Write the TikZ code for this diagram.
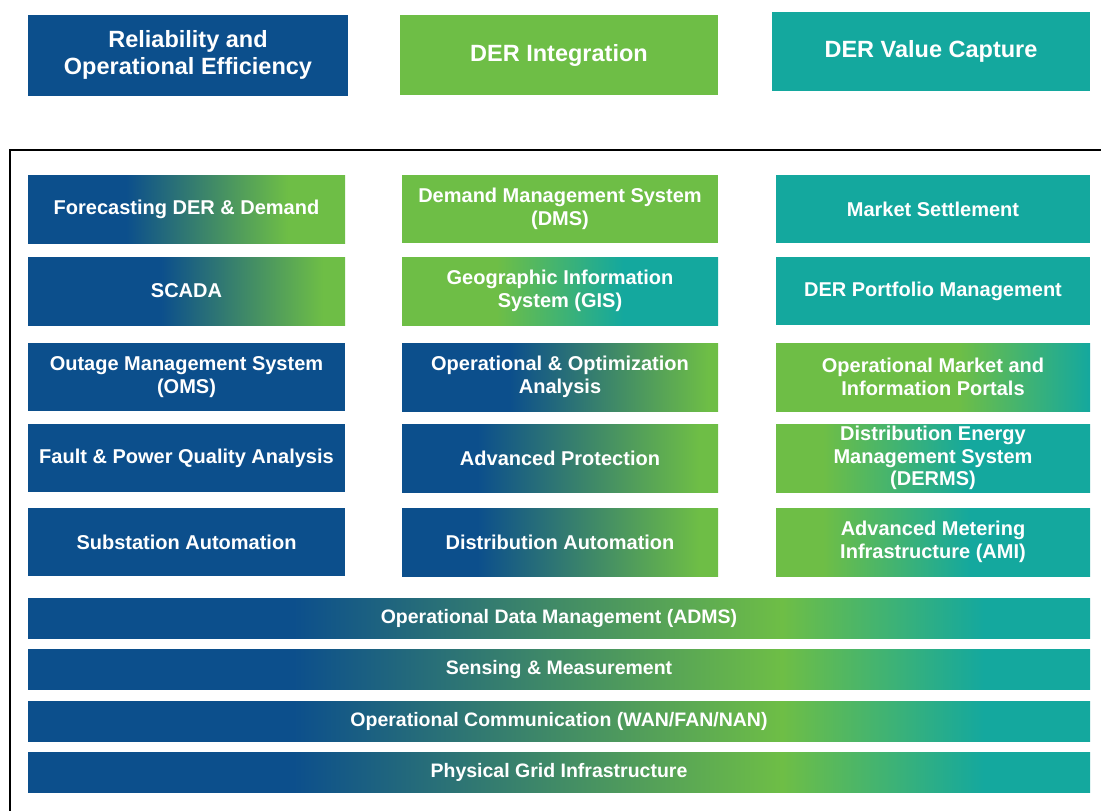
\documentclass[tikz,border=0pt]{standalone}
\usepackage{fontspec}
\setmainfont{Liberation Sans}
\definecolor{cblue}{RGB}{12,79,140}
\definecolor{cgreen}{RGB}{110,190,70}
\definecolor{cteal}{RGB}{20,168,158}
\pgfdeclarehorizontalshading{bgA}{100bp}{color(0bp)=(cblue); color(40.5bp)=(cblue); color(66bp)=(cgreen); color(100bp)=(cgreen)}
\pgfdeclarehorizontalshading{bgB}{100bp}{color(0bp)=(cblue); color(46bp)=(cblue); color(71.5bp)=(cgreen); color(100bp)=(cgreen)}
\pgfdeclarehorizontalshading{bgC}{100bp}{color(0bp)=(cblue); color(42bp)=(cblue); color(73.5bp)=(cgreen); color(100bp)=(cgreen)}
\pgfdeclarehorizontalshading{bgD}{100bp}{color(0bp)=(cblue); color(37bp)=(cblue); color(72bp)=(cgreen); color(100bp)=(cgreen)}
\pgfdeclarehorizontalshading{gtA}{100bp}{color(0bp)=(cgreen); color(40bp)=(cgreen); color(60bp)=(cteal); color(100bp)=(cteal)}
\pgfdeclarehorizontalshading{gtB}{100bp}{color(0bp)=(cgreen); color(54bp)=(cgreen); color(75bp)=(cteal); color(100bp)=(cteal)}
\pgfdeclarehorizontalshading{gtC}{100bp}{color(0bp)=(cgreen); color(32.5bp)=(cgreen); color(56bp)=(cteal); color(100bp)=(cteal)}
\pgfdeclarehorizontalshading{bandshade}{100bp}{color(0bp)=(cblue); color(37.5bp)=(cblue); color(60.5bp)=(cgreen); color(70bp)=(cteal); color(100bp)=(cteal)}
\begin{document}
\begin{tikzpicture}[x=1pt,y=-1pt,
  hdr/.style={inner sep=0pt, outer sep=0pt, text=white, align=center,
    font=\bfseries\fontsize{23.5}{27}\selectfont},
  cell/.style={inner sep=0pt, outer sep=0pt, text=white, align=center,
    minimum height=68pt, font=\bfseries\fontsize{20}{22.5}\selectfont},
  c1/.style={cell, minimum width=317pt},
  c2/.style={cell, minimum width=316pt},
  c3/.style={cell, minimum width=314pt},
  band/.style={inner sep=0pt, outer sep=0pt, text=white, align=center,
    minimum width=1062pt, minimum height=40pt, shade, shading=bandshade,
    font=\bfseries\fontsize{19.5}{22}\selectfont},
  sblue/.style={fill=cblue},
  sgreen/.style={fill=cgreen},
  steal/.style={fill=cteal},
  frame/.style={draw=black, line width=2.2pt}
]
\useasboundingbox (0,0) rectangle (1101,811);
% headers
\node[hdr, sblue, minimum width=320pt, minimum height=81pt] (h1) at (188,55) {Reliability and\\Operational Efficiency};
\node[hdr, sgreen, minimum width=318pt, minimum height=80pt] (h2) at (559,55) {DER Integration};
\node[hdr, steal, minimum width=318pt, minimum height=79pt] (h3) at (931,51.5) {DER Value Capture};
% frame
\draw[frame] (1101,150) -- (10,150) -- (10,811);
% row 1
\node[c1, shade, shading=bgA] (r1c1) at (186.5,209) {Forecasting DER \& Demand};
\node[c2, sgreen] (r1c2) at (560,209) {Demand Management System\\(DMS)};
\node[c3, steal] (r1c3) at (933,209) {Market Settlement};
% row 2
\node[c1, shade, shading=bgB] (r2c1) at (186.5,291) {SCADA};
\node[c2, shade, shading=gtA] (r2c2) at (560,291) {Geographic Information\\System (GIS)};
\node[c3, steal] (r2c3) at (933,291) {DER Portfolio Management};
% row 3
\node[c1, sblue] (r3c1) at (186.5,377) {Outage Management System\\(OMS)};
\node[c2, shade, shading=bgC] (r3c2) at (560,377) {Operational \& Optimization\\Analysis};
\node[c3, shade, shading=gtB] (r3c3) at (933,377) {Operational Market and\\Information Portals};
% row 4
\node[c1, sblue] (r4c1) at (186.5,458) {Fault \& Power Quality Analysis};
\node[c2, shade, shading=bgD] (r4c2) at (560,458) {Advanced Protection};
\node[c3, shade, shading=gtC] (r4c3) at (933,458) {Distribution Energy\\Management System\\(DERMS)};
% row 5
\node[c1, sblue] (r5c1) at (186.5,542) {Substation Automation};
\node[c2, shade, shading=bgD] (r5c2) at (560,542) {Distribution Automation};
\node[c3, shade, shading=gtC] (r5c3) at (933,542) {Advanced Metering\\Infrastructure (AMI)};
% bands
\node[band] (b1) at (559,618) {Operational Data Management (ADMS)};
\node[band] (b2) at (559,669) {Sensing \& Measurement};
\node[band] (b3) at (559,721) {Operational Communication (WAN/FAN/NAN)};
\node[band] (b4) at (559,772) {Physical Grid Infrastructure};
\end{tikzpicture}
\end{document}
